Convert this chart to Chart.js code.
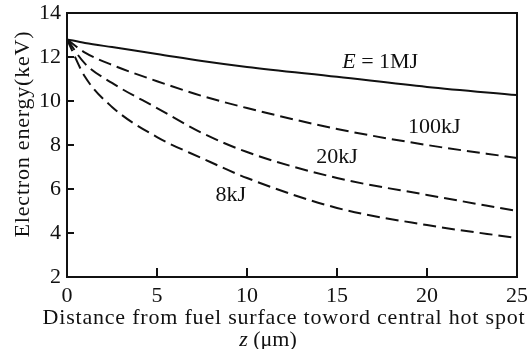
<!DOCTYPE html>
<html lang="en">
<head>
  <meta charset="UTF-8">
  <title>Electron energy vs distance</title>
  <style>
    html, body { margin: 0; padding: 0; background: #fff; }
    #wrap { width: 527px; height: 349px; }
  </style>
</head>
<body>
  <div id="wrap"><canvas id="myChart" width="527" height="349"></canvas></div>

  <script src="https://cdn.jsdelivr.net/npm/chart.js"></script>
  <script>
// distance z (um) where values were read
const zValues = [0, 1, 2.5, 5, 7.5, 10, 15, 20, 25];

// electron energy (keV) for each driver energy
const e1MJ   = [12.8, 12.64, 12.45, 12.14, 11.82, 11.55, 11.1, 10.64, 10.27];
const e100kJ = [12.8, 12.2, 11.64, 10.9, 10.23, 9.68, 8.73, 8.0, 7.41];
const e20kJ  = [12.8, 11.7, 10.82, 9.68, 8.55, 7.68, 6.5, 5.73, 5.0];
const e8kJ   = [12.8, 11.1, 9.73, 8.36, 7.4, 6.5, 5.14, 4.36, 3.77];

const yTicks = [2, 4, 6, 8, 10, 12, 14];
const xTicks = [0, 5, 10, 15, 20, 25];

const xTitle = 'Distance from fuel surface toword central hot spot';
const yTitle = 'Electron energy(keV)';

const curveLabels = [
  { text: '1MJ', prefix: 'E', x: 17.4, y: 11.75 },
  { text: '100kJ', x: 20.4, y: 8.8 },
  { text: '20kJ', x: 15, y: 7.45 },
  { text: '8kJ', x: 9.1, y: 5.7 },
];

const serif = '"Liberation Serif", "Times New Roman", serif';
const ink = '#111';

function pts(ys) {
  return zValues.map((z, i) => ({ x: z, y: ys[i] }));
}

function line(ys, dashed) {
  return {
    data: pts(ys),
    borderColor: ink,
    borderWidth: 2,
    borderDash: dashed ? [13, 6] : [],
    pointRadius: 0,
    fill: false,
    cubicInterpolationMode: 'monotone',
  };
}

// text with an italic head, centred on cx
function mixedText(ctx, head, rest, cx, cy, size) {
  ctx.font = 'italic ' + size + 'px ' + serif;
  const w1 = ctx.measureText(head).width;
  ctx.font = size + 'px ' + serif;
  const w2 = ctx.measureText(rest).width;
  const s = cx - (w1 + w2) / 2;
  ctx.textAlign = 'left';
  ctx.font = 'italic ' + size + 'px ' + serif;
  ctx.fillText(head, s, cy);
  ctx.font = size + 'px ' + serif;
  ctx.fillText(rest, s + w1, cy);
}

// frame, inward ticks, axis titles and curve labels
const decor = {
  id: 'decor',
  afterDatasetsDraw(chart) {
    const ctx = chart.ctx;
    const a = chart.chartArea;
    const xs = chart.scales.x, ys = chart.scales.y;
    ctx.save();
    ctx.strokeStyle = ink;
    ctx.lineWidth = 2;
    ctx.strokeRect(a.left, a.top, a.right - a.left, a.bottom - a.top);

    ctx.beginPath();
    yTicks.forEach(v => {
      const p = ys.getPixelForValue(v);
      ctx.moveTo(a.left, p);
      ctx.lineTo(a.left + 7, p);
    });
    xTicks.forEach(v => {
      const p = xs.getPixelForValue(v);
      ctx.moveTo(p, a.bottom);
      ctx.lineTo(p, a.bottom - 9);
    });
    ctx.stroke();

    ctx.fillStyle = ink;
    ctx.textBaseline = 'middle';
    curveLabels.forEach(l => {
      const px = xs.getPixelForValue(l.x);
      const py = ys.getPixelForValue(l.y);
      if (l.prefix) {
        mixedText(ctx, l.prefix, ' = ' + l.text, px, py, 22);
      } else {
        ctx.font = '22px ' + serif;
        ctx.textAlign = 'center';
        ctx.fillText(l.text, px, py);
      }
    });

    // x title, two lines
    ctx.letterSpacing = '0.8px';
    ctx.font = '22px ' + serif;
    ctx.textAlign = 'center';
    ctx.fillText(xTitle, 284, 318);
    ctx.letterSpacing = '0px';
    mixedText(ctx, 'z', ' (\u03bcm)', 268, 340, 22);

    // y title, rotated
    ctx.translate(23, 134);
    ctx.rotate(-Math.PI / 2);
    ctx.letterSpacing = '0.8px';
    ctx.font = '22px ' + serif;
    ctx.textAlign = 'center';
    ctx.fillText(yTitle, 0, 0);
    ctx.restore();
  }
};

const chart = new Chart(document.getElementById('myChart'), {
  type: 'line',
  data: {
    datasets: [
      line(e1MJ, false),
      line(e100kJ, true),
      line(e20kJ, true),
      line(e8kJ, true),
    ]
  },
  options: {
    responsive: false,
    animation: false,
    layout: { padding: { left: 0, right: 10, top: 13, bottom: 0 } },
    plugins: { legend: { display: false }, tooltip: { enabled: false } },
    scales: {
      x: {
        type: 'linear',
        min: 0,
        max: 25,
        afterBuildTicks: s => { s.ticks = xTicks.map(v => ({ value: v })); },
        afterFit: s => { s.height = 72; s.paddingLeft = 0; s.paddingRight = 0; },
        grid: { display: false, drawTicks: false },
        border: { display: false },
        ticks: { color: ink, padding: 6, font: { family: serif, size: 22 }, maxRotation: 0 },
      },
      y: {
        min: 2,
        max: 14,
        afterBuildTicks: s => { s.ticks = yTicks.map(v => ({ value: v })); },
        afterFit: s => { s.width = 67; s.paddingTop = 0; s.paddingBottom = 0; },
        grid: { display: false, drawTicks: false },
        border: { display: false },
        ticks: { color: ink, padding: 6, font: { family: serif, size: 22 } },
      }
    }
  },
  plugins: [decor]
});
  </script>
</body>
</html>
